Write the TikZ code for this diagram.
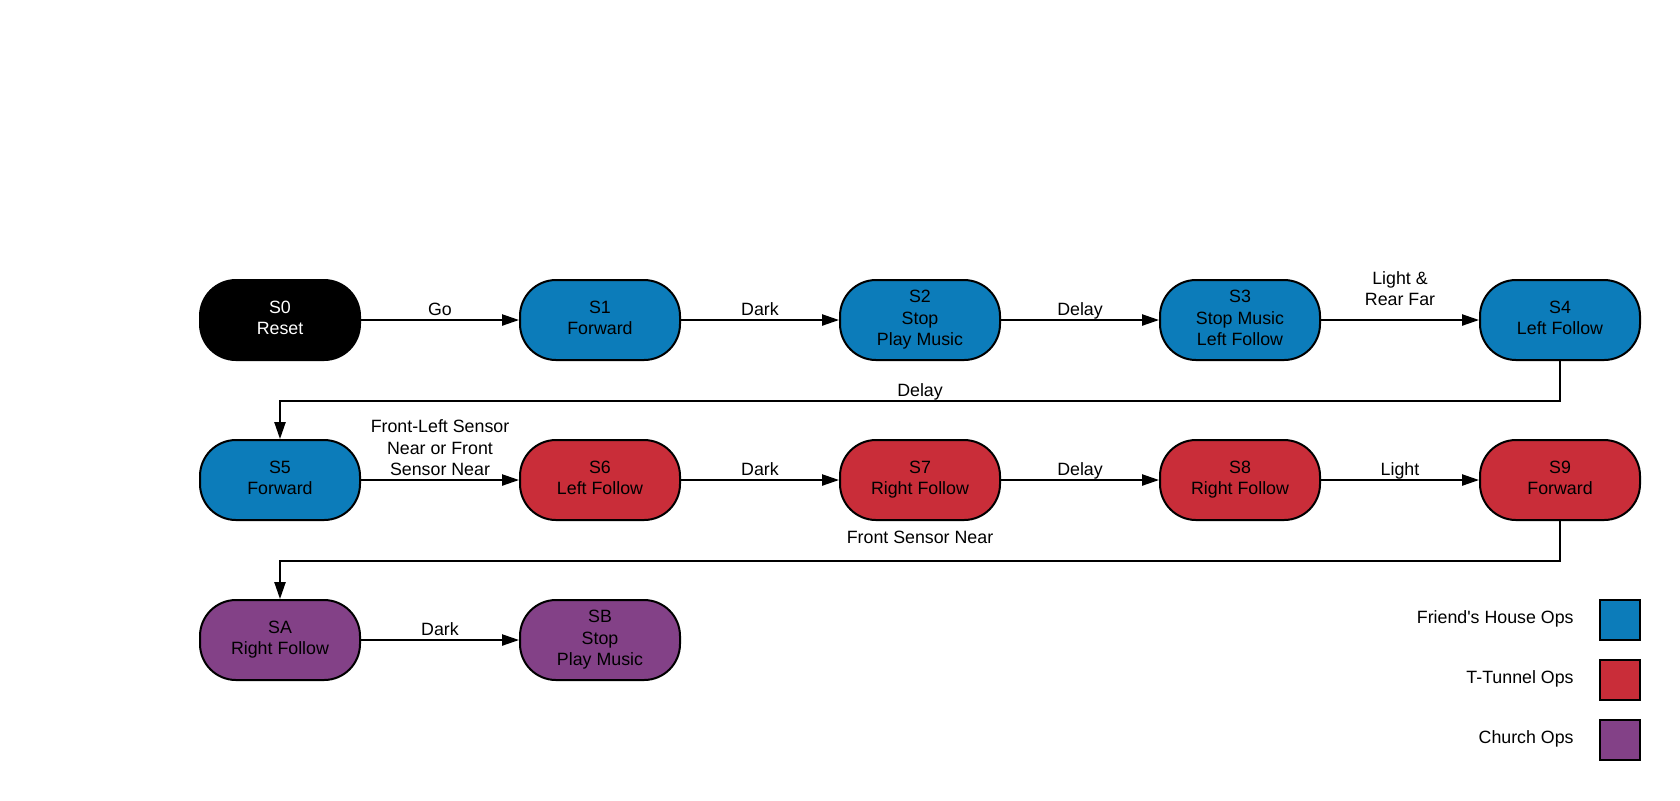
\documentclass[tikz,border=0pt]{standalone}
\usepackage{fontspec}
\setmainfont{Liberation Sans}
\usetikzlibrary{arrows.meta}
\definecolor{fblue}{HTML}{0C7CBA}
\definecolor{tred}{HTML}{C92D39}
\definecolor{cpurple}{HTML}{834187}
\newcommand\diafont{\fontsize{8.9pt}{10.7pt}\selectfont}
\begin{document}
\begin{tikzpicture}[x=0.5pt,y=-0.5pt,
  state/.style={draw=black, line width=1pt, rounded corners=18pt,
    minimum width=80pt, minimum height=40pt, inner sep=0pt,
    align=center, font=\diafont, text depth=2pt},
  blue state/.style={state, fill=fblue},
  red state/.style={state, fill=tred},
  purple state/.style={state, fill=cpurple},
  black state/.style={state, fill=black, text=white},
  arr/.style={line width=0.9pt, -{Triangle[length=8.5pt,width=5.6pt]}},
  lab/.style={font=\diafont, inner sep=0pt, anchor=base, yshift=2.25pt},
  mlab/.style={font=\diafont, inner sep=0pt, anchor=south, align=center},
  legbox/.style={draw=black, line width=1.2pt, minimum width=20pt, minimum height=20pt, inner sep=0pt},
  legtext/.style={font=\diafont, inner sep=0pt, anchor=east}
]
\useasboundingbox (0,0) rectangle (1680,800);

% states
\node[black state]  (S0) at (280,320)  {S0\\Reset};
\node[blue state]   (S1) at (600,320)  {S1\\Forward};
\node[blue state]   (S2) at (920,320)  {S2\\Stop\\Play Music};
\node[blue state]   (S3) at (1240,320) {S3\\Stop Music\\Left Follow};
\node[blue state]   (S4) at (1560,320) {S4\\Left Follow};
\node[blue state]   (S5) at (280,480)  {S5\\Forward};
\node[red state]    (S6) at (600,480)  {S6\\Left Follow};
\node[red state]    (S7) at (920,480)  {S7\\Right Follow};
\node[red state]    (S8) at (1240,480) {S8\\Right Follow};
\node[red state]    (S9) at (1560,480) {S9\\Forward};
\node[purple state] (SA) at (280,640)  {SA\\Right Follow};
\node[purple state] (SB) at (600,640)  {SB\\Stop\\Play Music};

% transitions
\draw[arr] (S0) -- node[lab]{Go} (S1);
\draw[arr] (S1) -- node[lab]{Dark} (S2);
\draw[arr] (S2) -- node[lab]{Delay} (S3);
\draw[arr] (S3) -- node[mlab, yshift=6.5pt]{Light \&\\Rear Far} (S4);
\draw[arr] (S4.south) -- ([yshift=-20pt]S4.south) -| node[pos=0.25, lab]{Delay} (S5.north);
\draw[arr] (S5) -- node[mlab, yshift=1.75pt]{Front-Left Sensor\\Near or Front\\Sensor Near} (S6);
\draw[arr] (S6) -- node[lab]{Dark} (S7);
\draw[arr] (S7) -- node[lab]{Delay} (S8);
\draw[arr] (S8) -- node[lab]{Light} (S9);
\draw[arr] (S9.south) -- ([yshift=-20pt]S9.south) -| node[pos=0.25, lab, yshift=6.5pt]{Front Sensor Near} (SA.north);
\draw[arr] (SA) -- node[lab]{Dark} (SB);

% legend
\node[legbox, fill=fblue]   (L1) at (1620,620) {};
\node[legbox, fill=tred]    (L2) at (1620,680) {};
\node[legbox, fill=cpurple] (L3) at (1620,740) {};
\node[legtext] (T1) at (1574,619) {Friend\textquotesingle s House Ops};
\node[legtext] (T2) at (1574,679) {T-Tunnel Ops};
\node[legtext] (T3) at (1574,739) {Church Ops};
\end{tikzpicture}
\end{document}
